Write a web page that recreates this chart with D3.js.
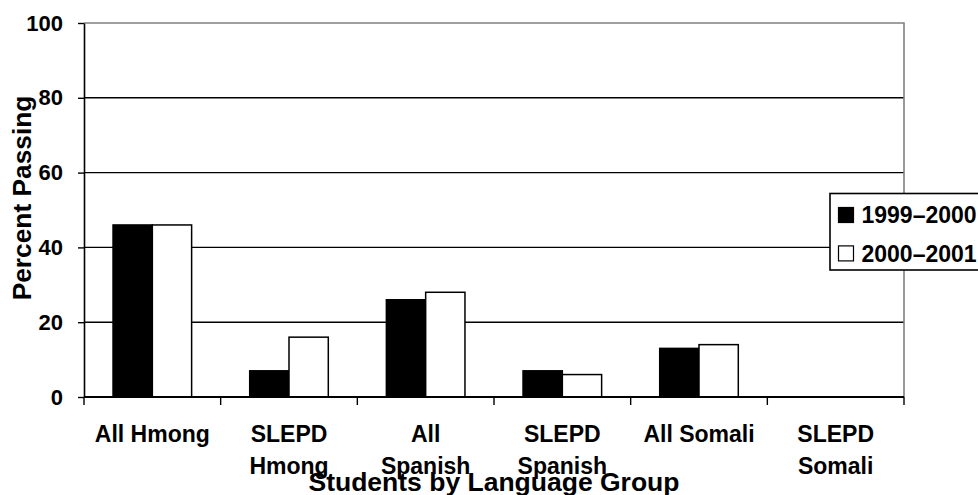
<!DOCTYPE html>
<html>
<head>
<meta charset="utf-8">
<script src="https://cdn.jsdelivr.net/npm/d3@7"></script>
<style>
  html, body { margin: 0; padding: 0; background: #fff; }
  svg { display: block; font-family: "Liberation Sans", Arial, sans-serif; font-weight: bold; }
</style>
</head>
<body>
<svg id="chart" width="978" height="495"></svg>
<script>
const categories = ["All Hmong", "SLEPD Hmong", "All Spanish", "SLEPD Spanish", "All Somali", "SLEPD Somali"];
const categoryLabels = [["All Hmong"], ["SLEPD", "Hmong"], ["All", "Spanish"], ["SLEPD", "Spanish"], ["All Somali"], ["SLEPD", "Somali"]];
const seriesNames = ["1999\u20132000", "2000\u20132001"];
const values1999 = [46, 7, 26, 7, 13, 0];
const values2000 = [46, 16, 28, 6, 14, 0];
const yTicks = [0, 20, 40, 60, 80, 100];
const yTitle = "Percent Passing";
const xTitle = "Students by Language Group";
const seriesFill = ["#000000", "#ffffff"];

(function () {
const svg = d3.select("#chart");
const mLeft = 84, mRight = 904, mTop = 23, mBottom = 397;

const x0 = d3.scaleBand().domain(categories).range([mLeft, mRight]).padding(0);
const x1 = d3.scaleBand().domain(seriesNames).range([0, x0.bandwidth()]).paddingInner(0).paddingOuter(0.739);
const y = d3.scaleLinear().domain([0, 100]).range([mBottom, mTop]);

// gridlines
svg.append("g").selectAll("line")
  .data(yTicks.filter(t => t > 0 && t < 100))
  .join("line")
  .attr("x1", mLeft).attr("x2", mRight)
  .attr("y1", d => y(d)).attr("y2", d => y(d))
  .attr("stroke", "#000").attr("stroke-width", 1.4);

// plot border (top/right)
svg.append("path")
  .attr("d", `M${mLeft},${y(100)}H${mRight}V${mBottom}`)
  .attr("fill", "none").attr("stroke", "#808080").attr("stroke-width", 1.6);

// bars
const data = categories.map((c, i) => ({ c, vals: [values1999[i], values2000[i]] }));
const groups = svg.append("g").selectAll("g")
  .data(data).join("g")
  .attr("transform", d => `translate(${x0(d.c)},0)`);
groups.selectAll("rect")
  .data(d => d.vals.map((v, k) => ({ s: seriesNames[k], v, k })))
  .join("rect")
  .attr("x", d => x1(d.s))
  .attr("width", x1.bandwidth())
  .attr("y", d => y(d.v))
  .attr("height", d => y(0) - y(d.v))
  .attr("fill", d => seriesFill[d.k])
  .attr("stroke", "#000").attr("stroke-width", d => d.v > 0 ? 1.5 : 0);

// y axis
const yAxis = d3.axisLeft(y).tickValues(yTicks).tickSize(6).tickSizeOuter(0).tickPadding(15);
const gy = svg.append("g").attr("transform", `translate(${mLeft},0)`).call(yAxis);
gy.select(".domain").attr("stroke", "#000").attr("stroke-width", 1.6);
gy.selectAll(".tick line").attr("stroke", "#000").attr("stroke-width", 1.4);
gy.selectAll(".tick text").attr("font-size", 22).attr("font-weight", "bold")
  .attr("font-family", "'Liberation Sans', Arial, sans-serif").attr("fill", "#000");

// x axis line
svg.append("line").attr("x1", mLeft).attr("x2", mRight).attr("y1", mBottom).attr("y2", mBottom)
  .attr("stroke", "#000").attr("stroke-width", 1.8);
// boundary ticks
const boundaries = categories.map(c => x0(c)).concat([x0.range()[1]]);
svg.append("g").selectAll("line").data(boundaries).join("line")
  .attr("x1", d => d).attr("x2", d => d)
  .attr("y1", mBottom).attr("y2", mBottom + 8)
  .attr("stroke", "#000").attr("stroke-width", 1.4);

// x labels
const xl = svg.append("g").selectAll("text").data(categories).join("text")
  .attr("text-anchor", "middle")
  .attr("font-size", 23)
  .attr("fill", "#000")
  .attr("x", c => x0(c) + x0.bandwidth() / 2)
  .attr("y", 442);
xl.selectAll("tspan").data((c, i) => categoryLabels[i]).join("tspan")
  .attr("x", function () { return d3.select(this.parentNode).attr("x"); })
  .attr("dy", (d, i) => i === 0 ? 0 : 32)
  .text(d => d);

// axis titles
svg.append("text").attr("text-anchor", "middle").attr("font-size", 26.5).attr("fill", "#000")
  .attr("x", (mLeft + mRight) / 2).attr("y", 491).text(xTitle);
svg.append("text").attr("text-anchor", "middle").attr("font-size", 26.3).attr("fill", "#000")
  .attr("transform", "translate(31,198) rotate(-90)").text(yTitle);

// legend
const lg = svg.append("g");
lg.append("rect").attr("x", 830).attr("y", 193.5).attr("width", 200).attr("height", 76.5)
  .attr("fill", "#fff").attr("stroke", "#000").attr("stroke-width", 1.6);
const rows = lg.selectAll("g.row").data(seriesNames).join("g").attr("class", "row")
  .attr("transform", (d, i) => `translate(0,${i * 38.4})`);
rows.append("rect").attr("x", 838.5).attr("y", 207.5).attr("width", 15).attr("height", 15)
  .attr("fill", (d, i) => seriesFill[i]).attr("stroke", "#000").attr("stroke-width", 1.2);
rows.append("text").attr("x", 861.5).attr("y", 223.3).attr("font-size", 23).attr("fill", "#000").text(d => d);
})();
</script>
</body>
</html>
